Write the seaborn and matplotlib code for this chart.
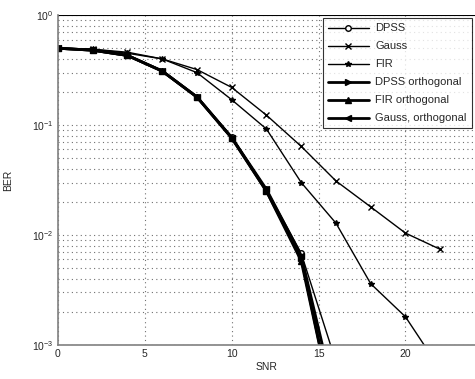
import numpy as np
import pandas as pd
import matplotlib.pyplot as plt
import seaborn as sns

# BER vs SNR
snr = [0, 2, 4, 6, 8, 10, 12, 14, 16, 18, 20, 22]
ber_gauss = [0.50, 0.49, 0.46, 0.40, 0.32, 0.22, 0.123, 0.064, 0.031, 0.018, 0.0104, 0.0074]
ber_fir = [0.50, 0.49, 0.45, 0.40, 0.30, 0.17, 0.092, 0.030, 0.0128, 0.0036, 0.0018, 0.0006]

snr_short = [0, 2, 4, 6, 8, 10, 12, 14, 16]
ber_dpss = [0.50, 0.48, 0.43, 0.31, 0.18, 0.078, 0.026, 0.0068, 0.0007]
ber_dpss_orth = [0.50, 0.48, 0.43, 0.31, 0.18, 0.077, 0.025, 0.0062, 0.0002]
ber_fir_orth = [0.50, 0.48, 0.43, 0.31, 0.18, 0.076, 0.025, 0.0058, 0.0002]
ber_gauss_orth = [0.50, 0.48, 0.43, 0.31, 0.18, 0.077, 0.026, 0.0065, 0.0003]

series = [
    ('DPSS', snr_short, ber_dpss, 'o', 1.0, 'white'),
    ('Gauss', snr, ber_gauss, 'x', 1.0, 'black'),
    ('FIR', snr, ber_fir, '*', 1.0, 'black'),
    ('DPSS orthogonal', snr_short, ber_dpss_orth, '>', 2.0, 'black'),
    ('FIR orthogonal', snr_short, ber_fir_orth, '^', 2.0, 'black'),
    ('Gauss, orthogonal', snr_short, ber_gauss_orth, '<', 2.0, 'black'),
]

sns.set_style('white')
plt.rcParams['font.family'] = ['Liberation Sans', 'DejaVu Sans']

fig = plt.figure(figsize=(4.75, 3.79), dpi=100)
ax = fig.add_axes([0.122, 0.09, 0.878, 0.87])

for name, xs, ys, mk, lw, fc in series:
    df = pd.DataFrame({'SNR': xs, 'BER': ys})
    sns.lineplot(data=df, x='SNR', y='BER', ax=ax, color='black', linewidth=lw,
                 linestyle='-', dashes=False, marker=mk, markersize=4,
                 markeredgecolor='black', markerfacecolor=fc,
                 markeredgewidth=1, label=name)

ax.set_yscale('log')
ax.set_xlim(0, 24)
ax.set_ylim(1e-3, 1)
ax.set_xticks([0, 5, 10, 15, 20])
grid_kw = dict(ls=(0, (1, 3)), color='#707070', lw=0.8)
ax.grid(True, which='major', axis='both', **grid_kw)
ax.grid(True, which='minor', axis='y', **grid_kw)
ax.tick_params(axis='both', which='both', labelsize=7.5, length=0, pad=3)
ax.set_xlabel('SNR', fontsize=7.5, labelpad=2)
ax.set_ylabel('BER', fontsize=7.5, labelpad=14)
for s in ['left', 'bottom']:
    ax.spines[s].set_color('#808080')
    ax.spines[s].set_linewidth(1.2)
for s in ['top', 'right']:
    ax.spines[s].set_visible(False)
ax.axhline(1, color='black', lw=0.8)

leg = ax.legend(loc='upper right', fontsize=8, frameon=True, fancybox=False,
                edgecolor='black', borderaxespad=0.3, handlelength=3.7,
                labelspacing=0.72, borderpad=0.45, handletextpad=0.6)
leg.get_frame().set_linewidth(0.8)

fig.savefig('out.png', dpi=100)
